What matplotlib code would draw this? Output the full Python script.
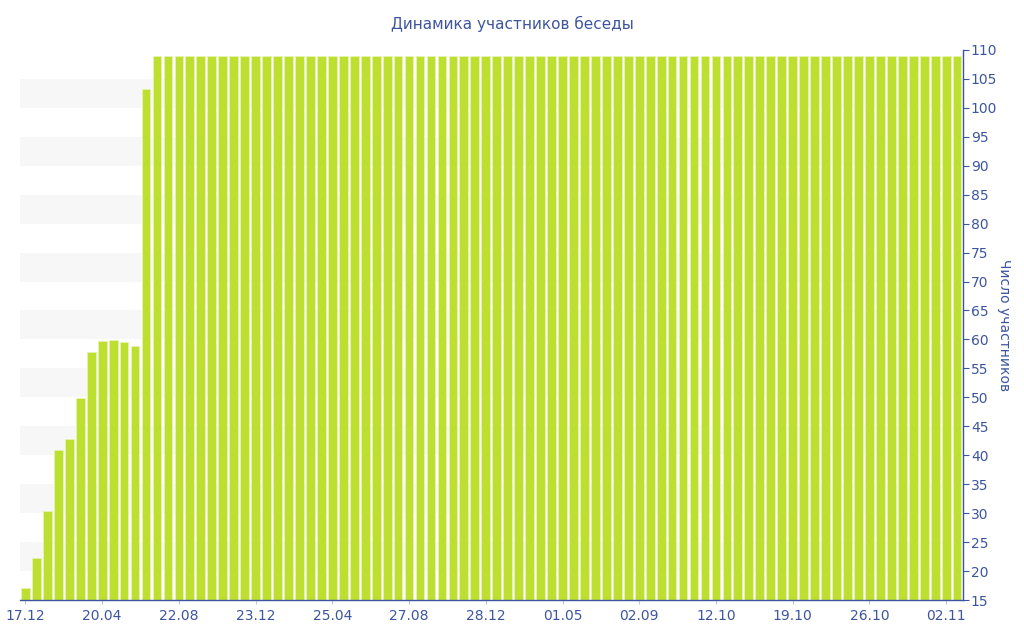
import numpy as np
import matplotlib.pyplot as plt
from matplotlib.ticker import MultipleLocator

# number of chat members per period
members = [17.1, 22.3, 30.4, 40.9, 42.8, 49.9, 57.8, 59.7, 59.9, 59.6, 58.9, 103.3] + [109] * 74
tick_labels = ['17.12', '20.04', '22.08', '23.12', '25.04', '27.08', '28.12',
               '01.05', '02.09', '12.10', '19.10', '26.10', '02.11']
tick_step = 7

blue = '#3d55a0'
green = '#bde030'

fig = plt.figure(figsize=(10.24, 6.4), dpi=100)
ax = fig.add_axes([0.0195, 0.0625, 0.9205, 0.8595])

x = np.arange(len(members))

# alternating light bands
for lo in range(20, 105, 10):
    ax.axhspan(lo, lo + 5, color='#f7f7f7', zorder=0, lw=0)

ax.bar(x, members, width=0.8, color=green, edgecolor='#e6f3b0', linewidth=0.6, zorder=2)

ax.set_xlim(-0.5, len(members) - 0.5)
ax.set_ylim(15, 110)

ax.set_xticks(x[::tick_step][:len(tick_labels)])
ax.set_xticklabels(tick_labels)

ax.yaxis.tick_right()
ax.yaxis.set_label_position('right')
ax.yaxis.set_major_locator(MultipleLocator(5))
ax.set_ylabel('Число участников', rotation=270, labelpad=10, color=blue, fontsize=10)

for s in ['top', 'left']:
    ax.spines[s].set_visible(False)
for s in ['bottom', 'right']:
    ax.spines[s].set_color(blue)
    ax.spines[s].set_linewidth(1)

ax.tick_params(axis='x', colors=blue, labelsize=10, length=3, color='#c0c8dd')
ax.tick_params(axis='y', colors=blue, labelsize=10, length=4, pad=2)

fig.suptitle('Динамика участников беседы', color=blue, fontsize=11, y=0.975)

fig.savefig('out.png')
